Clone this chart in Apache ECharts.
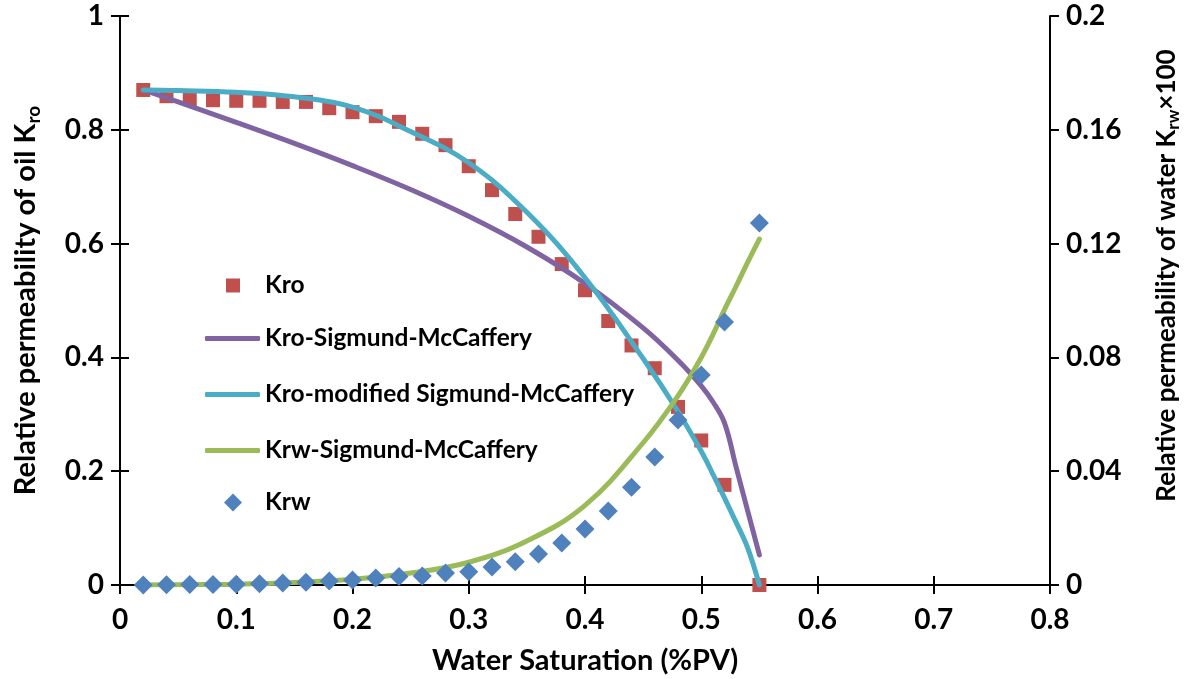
<!DOCTYPE html>
<html><head><meta charset="utf-8">
<script src="https://cdn.jsdelivr.net/npm/echarts@6/dist/echarts.min.js"></script>
<style>html,body{margin:0;padding:0;background:#fff}#c{width:1187px;height:679px}</style>
</head><body><div id="c"></div>
<script>
// Observed data points (water saturation)
var swObs = [0.02,0.04,0.06,0.08,0.10,0.12,0.14,0.16,0.18,0.20,0.22,0.24,0.26,0.28,0.30,0.32,0.34,0.36,0.38,0.40,0.42,0.44,0.46,0.48,0.50,0.52,0.55];
var kroObs = [0.870,0.859,0.854,0.852,0.851,0.851,0.849,0.849,0.838,0.831,0.824,0.814,0.793,0.773,0.736,0.694,0.652,0.612,0.564,0.518,0.464,0.421,0.381,0.313,0.254,0.176,0.000];
var krwObs = [0.0000,0.0001,0.0002,0.0002,0.0003,0.0004,0.0007,0.0010,0.0014,0.0018,0.0025,0.0030,0.0032,0.0042,0.0047,0.0063,0.0082,0.0109,0.0148,0.0197,0.0260,0.0344,0.0450,0.0580,0.0738,0.0924,0.1272];
// Model curves
var swLine = [0.02,0.05,0.10,0.15,0.20,0.25,0.30,0.35,0.40,0.45,0.48,0.50,0.51,0.52,0.53,0.54,0.55];
var kroSM = [0.870,0.849,0.813,0.776,0.737,0.695,0.648,0.594,0.530,0.452,0.395,0.350,0.322,0.285,0.207,0.130,0.053];
var kroModSM = [0.870,0.869,0.866,0.858,0.840,0.797,0.742,0.655,0.540,0.398,0.305,0.235,0.195,0.153,0.110,0.065,0.000];
var krwSM = [0.0000,0.0001,0.0003,0.0009,0.0020,0.0042,0.0080,0.0155,0.0280,0.0500,0.0665,0.0800,0.0880,0.0968,0.1050,0.1135,0.1216];
var seriesNames = ['Kro','Kro-Sigmund-McCaffery','Kro-modified Sigmund-McCaffery','Krw-Sigmund-McCaffery','Krw'];
var xTitle = 'Water Saturation (%PV)';

function pairs(xs, ys){ return xs.map(function(x,i){ return [x, ys[i]]; }); }

var FONT = 'Lato';
var tickLbl = {fontFamily: FONT, fontWeight: 'bold', fontSize: 28, color: '#000'};
var axLine = {show: true, onZero: false, lineStyle: {color: '#000', width: 2}};
var tickOut = {show: true, inside: false, length: 9, lineStyle: {color: '#000', width: 2}};
var tickIn = {show: true, inside: true, length: 9, lineStyle: {color: '#000', width: 2}};
var legText = {fontFamily: FONT, fontWeight: 'bold', fontSize: 24.5, color: '#000'};

var chart = echarts.init(document.getElementById('c'));
chart.setOption({
  animation: false,
  backgroundColor: '#fff',
  grid: {left: 120, right: 137, top: 16, bottom: 94, containLabel: false, outerBoundsMode: 'none'},
  legend: [
    {orient: 'vertical', left: 221, top: 268, itemWidth: 14, itemHeight: 14, icon: 'rect',
     textStyle: Object.assign({padding: [0, 0, 0, 20]}, legText), data: [seriesNames[0]]},
    {orient: 'vertical', left: 200, top: 321, itemWidth: 55, itemHeight: 5, icon: 'roundRect', itemGap: 31,
     textStyle: legText, data: [seriesNames[1], seriesNames[2], seriesNames[3]]},
    {orient: 'vertical', left: 219, top: 485, itemWidth: 18, itemHeight: 18, icon: 'diamond',
     textStyle: Object.assign({padding: [0, 0, 0, 18]}, legText), data: [seriesNames[4]]}
  ],
  xAxis: [
    {type: 'value', min: 0, max: 0.8, interval: 0.1, position: 'bottom',
     axisLine: axLine, axisTick: tickOut, splitLine: {show: false},
     axisLabel: Object.assign({margin: 21}, tickLbl),
     name: xTitle, nameLocation: 'middle', nameGap: 61,
     nameTextStyle: {fontFamily: FONT, fontWeight: 'bold', fontSize: 29, color: '#000'}},
    {type: 'value', min: 0, max: 0.8, interval: 0.1, position: 'bottom',
     axisLine: {show: false}, axisTick: tickIn, splitLine: {show: false}, axisLabel: {show: false}}
  ],
  yAxis: [
    {type: 'value', min: 0, max: 1, interval: 0.2, position: 'left',
     axisLine: axLine, axisTick: tickOut, splitLine: {show: false},
     axisLabel: Object.assign({margin: 16}, tickLbl),
     name: '{t|Relative permeability of oil K}{s|ro}', nameLocation: 'middle', nameGap: 77, nameRotate: 90,
     nameTextStyle: {rich: {
       t: {fontFamily: FONT, fontWeight: 'bold', fontSize: 29, color: '#000'},
       s: {fontFamily: FONT, fontWeight: 'bold', fontSize: 19, color: '#000', padding: [15,0,0,0]}
     }}},
    {type: 'value', min: 0, max: 0.2, interval: 0.04, position: 'right',
     axisLine: axLine, axisTick: tickOut, splitLine: {show: false},
     axisLabel: Object.assign({margin: 16}, tickLbl),
     name: '{t|Relative permeability of water K}{s|rw}{t|×100}', nameLocation: 'middle', nameGap: 102, nameRotate: 90,
     nameTextStyle: {padding: [0, 0, 0, 50], rich: {
       t: {fontFamily: FONT, fontWeight: 'bold', fontSize: 26, color: '#000'},
       s: {fontFamily: FONT, fontWeight: 'bold', fontSize: 17, color: '#000', padding: [13,0,0,0]}
     }}},
    {type: 'value', min: 0, max: 1, interval: 0.2, position: 'left',
     axisLine: {show: false}, axisTick: tickIn, splitLine: {show: false}, axisLabel: {show: false}},
    {type: 'value', min: 0, max: 0.2, interval: 0.04, position: 'right',
     axisLine: {show: false}, axisTick: tickIn, splitLine: {show: false}, axisLabel: {show: false}}
  ],
  series: [
    {name: seriesNames[0], type: 'scatter', xAxisIndex: 0, yAxisIndex: 0, symbol: 'rect', symbolSize: 14,
     itemStyle: {color: '#C0504D', opacity: 1}, data: pairs(swObs, kroObs), z: 2},
    {name: seriesNames[1], type: 'line', xAxisIndex: 0, yAxisIndex: 0, showSymbol: false, symbol: 'none', smooth: 0.4,
     lineStyle: {color: '#8064A2', width: 5, opacity: 1, cap: 'round'}, itemStyle: {color: '#8064A2'}, data: pairs(swLine, kroSM), z: 3},
    {name: seriesNames[2], type: 'line', xAxisIndex: 0, yAxisIndex: 0, showSymbol: false, symbol: 'none', smooth: 0.4,
     lineStyle: {color: '#4BACC6', width: 5, opacity: 1, cap: 'round'}, itemStyle: {color: '#4BACC6'}, data: pairs(swLine, kroModSM), z: 3},
    {name: seriesNames[3], type: 'line', xAxisIndex: 0, yAxisIndex: 1, showSymbol: false, symbol: 'none', smooth: 0.4,
     lineStyle: {color: '#9BBB59', width: 5, opacity: 1, cap: 'round'}, itemStyle: {color: '#9BBB59'}, data: pairs(swLine, krwSM), z: 3},
    {name: seriesNames[4], type: 'scatter', xAxisIndex: 0, yAxisIndex: 1, symbol: 'diamond', symbolSize: 19,
     itemStyle: {color: '#4F81BD', opacity: 1}, data: pairs(swObs, krwObs), z: 4}
  ]
});
</script></body></html>
